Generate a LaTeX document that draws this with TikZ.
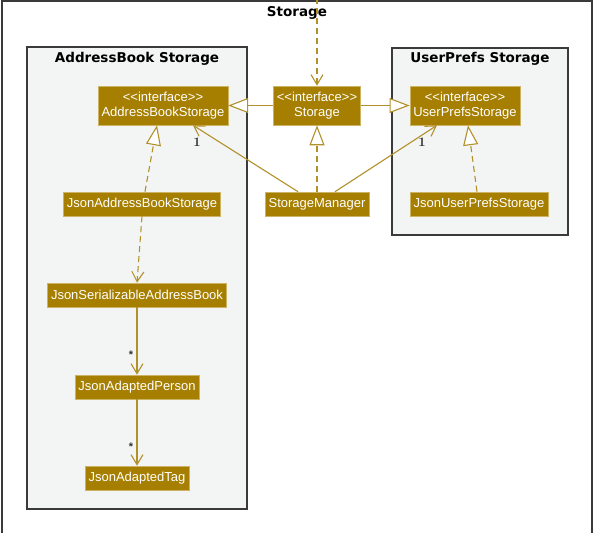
\documentclass[tikz,border=0pt]{standalone}
\usepackage{fontspec}
\setsansfont{Liberation Sans}
\newfontfamily\titlefont{DejaVu Sans}
\usetikzlibrary{arrows.meta}

\definecolor{clsfill}{RGB}{166,127,0}
\definecolor{clsborder}{RGB}{205,180,100}
\definecolor{linkcol}{RGB}{178,145,42}
\definecolor{pkgfill}{RGB}{243,245,244}
\definecolor{pkgborder}{RGB}{58,58,58}

\newcommand{\stereo}[1]{<{}<#1>{}>}

\tikzset{
    cls/.style={fill=clsfill, draw=clsborder, line width=0.6pt, text=white,
        font=\sffamily\fontsize{13}{15}\selectfont, inner xsep=3.5pt,
        inner ysep=0pt, minimum height=24pt, align=center},
    iface/.style={cls, minimum height=39pt},
    pkg/.style={fill=pkgfill, draw=pkgborder, line width=1.5pt},
    pkgtitle/.style={font=\titlefont\bfseries\fontsize{13.5}{15}\selectfont},
    link/.style={draw=linkcol, line width=1.1pt},
    dashedlink/.style={dash pattern=on 6pt off 4pt},
    realize/.style={link, -{Triangle[open, length=20pt, width=15pt, fill=white]}},
    assoc/.style={link, -{Straight Barb[length=10pt, width=12pt]}},
    mult/.style={font=\bfseries\fontsize{13}{14}\selectfont, text=black!85},
    star/.style={font=\sffamily\bfseries\fontsize{11}{13}\selectfont, text=black!80},
}

\begin{document}
\begin{tikzpicture}[x=1pt, y=-1pt]
    \useasboundingbox (0, 0) rectangle (595, 533);
    \draw[line width=1.5pt, draw=pkgborder, fill=white] (2, 1) rectangle (592, 560);
    \node[pkgtitle] (storagetitle) at (297, 13) {Storage};

    \draw[pkg] (27, 47) rectangle (247, 509);
    \node[pkgtitle] (abtitle) at (137, 59) {AddressBook Storage};
    \draw[pkg] (392, 48) rectangle (568, 235);
    \node[pkgtitle] (uptitle) at (480, 59) {UserPrefs Storage};

    \node[iface] (abs) at (163, 105.5) {\stereo{interface}\\AddressBookStorage};
    \node[iface] (st) at (317, 105.5) {\stereo{interface}\\Storage};
    \node[iface] (ups) at (465, 105.5) {\stereo{interface}\\UserPrefsStorage};

    \node[cls] (sm) at (317, 204) {StorageManager};
    \node[cls] (jabs) at (142, 204) {JsonAddressBookStorage};
    \node[cls] (jups) at (479, 204) {JsonUserPrefsStorage};
    \node[cls] (jsab) at (137, 295) {JsonSerializableAddressBook};
    \node[cls] (jap) at (137, 387) {JsonAdaptedPerson};
    \node[cls] (jat) at (137, 478) {JsonAdaptedTag};

    \coordinate (entry) at (317, -2);

    \draw[assoc, dashedlink] (entry) -- (st.north);
    \draw[realize] (st.west) -- (abs.east);
    \draw[realize] (st.east) -- (ups.west);
    \draw[realize, dashedlink] (sm.north) -- (st.south);
    \draw[assoc] ([xshift=-19pt]sm.north) -- ([xshift=30pt]abs.south);
    \draw[assoc] ([xshift=18pt]sm.north) -- ([xshift=-28pt]ups.south);
    \draw[realize, dashedlink] ([xshift=3pt]jabs.north) -- ([xshift=-6pt]abs.south);
    \draw[realize, dashedlink] ([xshift=-2pt]jups.north) -- ([xshift=3pt]ups.south);
    \draw[assoc, dashedlink] (jabs.south) -- (jsab.north);
    \draw[assoc] (jsab) -- (jap);
    \draw[assoc] (jap) -- (jat);

    \node[mult] (m1) at (197, 142) {1};
    \node[mult] (m2) at (422, 142) {1};
    \node[star] (s1) at (131, 355) {*};
    \node[star] (s2) at (131, 447) {*};
\end{tikzpicture}
\end{document}
